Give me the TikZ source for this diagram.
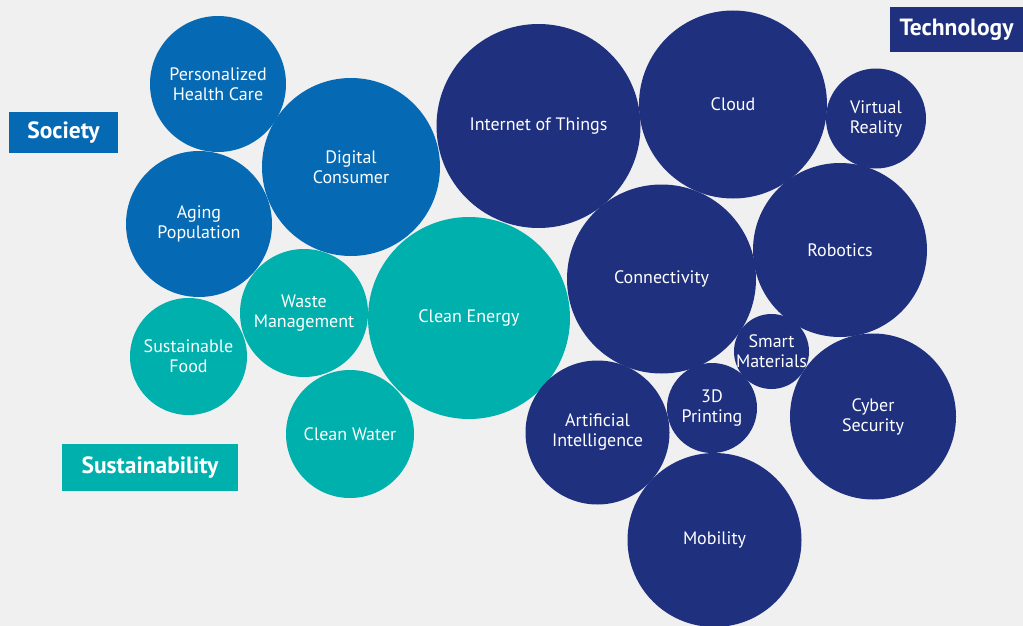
\documentclass[tikz,border=0pt]{standalone}
\usepackage{fontspec}
\setmainfont{PT Sans}
\definecolor{socblue}{HTML}{0569B3}
\definecolor{susteal}{HTML}{00B0AD}
\definecolor{technavy}{HTML}{1F307E}
\definecolor{bggray}{HTML}{F0F0F0}
\tikzset{
  lbl/.style={text=white, align=center, inner sep=0pt,
    font=\fontsize{18}{20}\selectfont},
  tagbox/.style={text=white, inner sep=0pt, anchor=center,
    font=\fontsize{23.5}{25}\selectfont\bfseries},
}
\begin{document}
\begin{tikzpicture}[x=1pt, y=-1pt]
  \fill[bggray] (0,0) rectangle (1023,626);
  \useasboundingbox (0,0) rectangle (1023,626);

  % society
  \fill[socblue] (218,84) circle[radius=68] node[lbl] (health) {Personalized\\Health Care};
  \fill[socblue] (351,167) circle[radius=89] node[lbl] (digital) {Digital\\Consumer};
  \fill[socblue] (199,224) circle[radius=73] node[lbl] (aging) {Aging\\Population};

  % sustainability
  \fill[susteal] (188.5,356.5) circle[radius=58.5] node[lbl] (food) {Sustainable\\Food};
  \fill[susteal] (304,313) circle[radius=64] node[lbl] (waste) {Waste\\Management};
  \fill[susteal] (469,318) circle[radius=101] node[lbl] (energy) {Clean Energy};
  \fill[susteal] (350,434) circle[radius=64] node[lbl] (water) {Clean Water};

  % technology
  \fill[technavy] (538.5,126) circle[radius=102] node[lbl] (iot) {Internet of Things};
  \fill[technavy] (733,104.5) circle[radius=94] node[lbl] (cloud) {Cloud};
  \fill[technavy] (876,118.5) circle[radius=50] node[lbl] (vr) {Virtual\\Reality};
  \fill[technavy] (661.5,279) circle[radius=94.5] node[lbl] (connect) {Connectivity};
  \fill[technavy] (840,250) circle[radius=87] node[lbl] (robot) {Robotics};
  \fill[technavy] (771.5,351.5) circle[radius=37.5] node[lbl] (smart) {Smart\\Materials};
  \fill[technavy] (712,408) circle[radius=45] node[lbl] (print) {3D\\Printing};
  \fill[technavy] (597.5,432.5) circle[radius=72] node[lbl] (ai) {Artificial\\Intelligence};
  \fill[technavy] (873,416.5) circle[radius=83] node[lbl] (cyber) {Cyber\\Security};
  \fill[technavy] (714.5,540) circle[radius=87] node[lbl] (mobil) {Mobility};

  % group tags
  \node[tagbox, fill=socblue, minimum width=109, minimum height=41] (society) at (63.5,132.5) {Society};
  \node[tagbox, fill=susteal, minimum width=176, minimum height=47] (sustain) at (150,467.5) {Sustainability};
  \node[tagbox, fill=technavy, minimum width=133, minimum height=45] (tech) at (956.5,29.5) {Technology};
\end{tikzpicture}
\end{document}
